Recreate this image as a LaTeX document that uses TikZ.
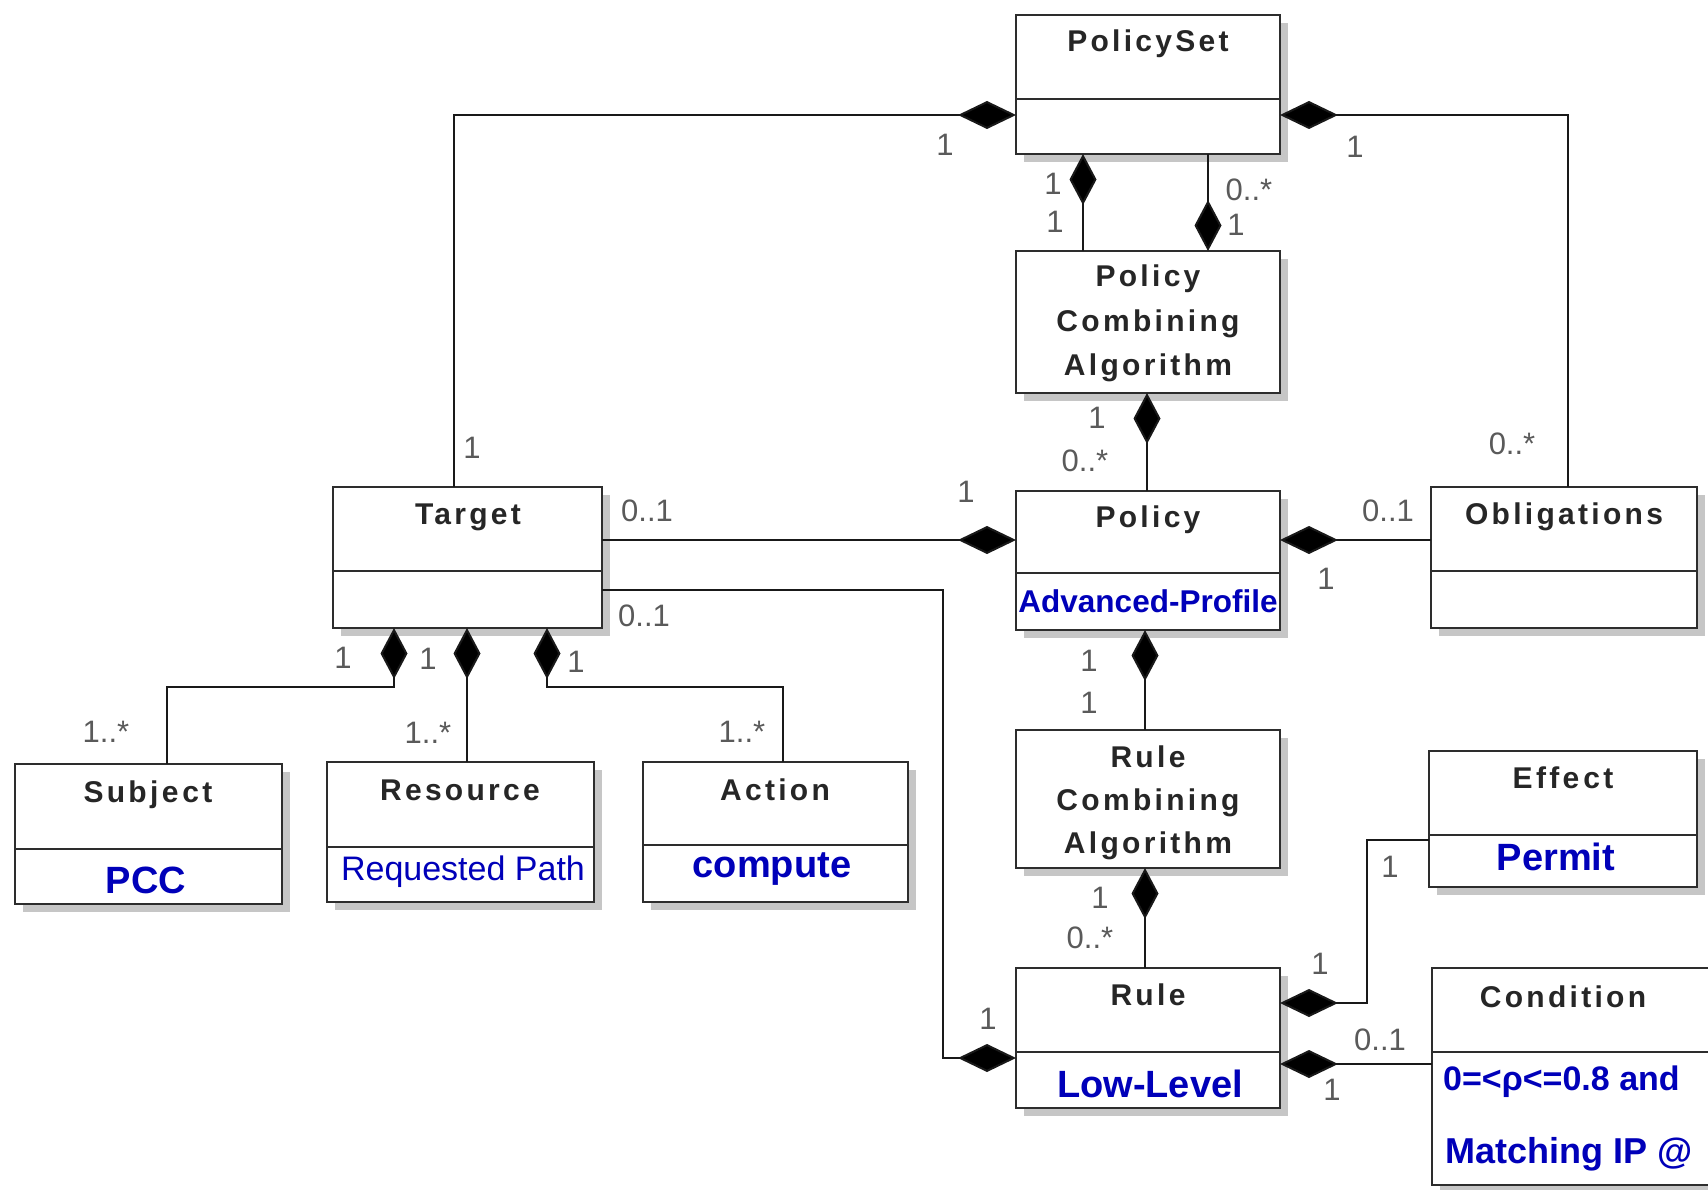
\documentclass[tikz,border=0pt]{standalone}
\usepackage{fontspec}
\setmainfont{Liberation Sans}
\newfontfamily\ttlfont[LetterSpace=11]{Liberation Sans}
\usetikzlibrary{arrows.meta,fit}
\definecolor{boxline}{RGB}{45,45,45}
\definecolor{linkcol}{RGB}{25,25,25}
\definecolor{shadowcol}{RGB}{198,198,198}
\definecolor{attrblue}{RGB}{0,0,185}
\definecolor{multcol}{RGB}{90,90,90}
\newcommand{\umlclass}[5]{%
  \fill[shadowcol] (#2+8,#3+8) rectangle (#4+8,#5+8);
  \node[classbox, fit={(#2,#3) (#4,#5)}] (#1) {};
}
\newcommand{\umldiv}[2]{\draw[boxborder] (#1.west |- 0,#2) -- (#1.east |- 0,#2);}
\tikzset{
  classbox/.style={draw=boxline, fill=white, line width=2.4pt, inner sep=0pt, outer sep=0pt},
  boxborder/.style={draw=boxline, line width=2.2pt},
  ttl/.style={font=\ttlfont\bfseries\fontsize{30}{36}\selectfont, text=black!85, anchor=base, inner sep=0pt},
  attr/.style={font=\bfseries\fontsize{38}{44}\selectfont, text=attrblue, anchor=base, inner sep=0pt},
  mult/.style={font=\fontsize{31}{36}\selectfont, text=multcol, inner sep=0pt},
  link/.style={draw=linkcol, line width=2pt},
  hcomp/.style={link, arrows={Diamond[length=58pt,width=28pt,fill=black]-}},
  vcomp/.style={link, arrows={Diamond[length=51pt,width=27pt,fill=black]-}}
}
\begin{document}
\begin{tikzpicture}[x=1pt,y=-1pt]
\useasboundingbox (0,0) rectangle (1708,1190);
\clip (0,0) rectangle (1708,1190);
\fill[white] (0,0) rectangle (1708,1190);

% classes
\umlclass{ps}{1016}{15}{1280}{154} \umldiv{ps}{99}
\node[ttl] (psT) at (1148,52) {PolicySet};

\umlclass{pca}{1016}{251}{1280}{393}
\node[ttl] (pcaT1) at (1148,287) {Policy};
\node[ttl] (pcaT2) at (1148,331) {Combining};
\node[ttl] (pcaT3) at (1148,375) {Algorithm};

\umlclass{pol}{1016}{491}{1280}{630} \umldiv{pol}{573}
\node[ttl] (polT) at (1148,527) {Policy};
\node[attr, font=\bfseries\fontsize{31.5}{36}\selectfont] (polA) at (1148,612) {Advanced-Profile};

\umlclass{obl}{1431}{487}{1697}{628} \umldiv{obl}{571}
\node[ttl] (oblT) at (1564,524) {Obligations};

\umlclass{tg}{333}{487}{602}{628} \umldiv{tg}{571}
\node[ttl] (tgT) at (468,524) {Target};

\umlclass{subj}{15}{764}{282}{904} \umldiv{subj}{849}
\node[ttl] (subjT) at (148,802) {Subje\kern4pt ct};
\node[attr] (subjA) at (146,893) {PCC};

\umlclass{res}{327}{762}{594}{902} \umldiv{res}{847}
\node[ttl] (resT) at (460,800) {Resource};
\node[attr, font=\fontsize{34}{38}\selectfont] (resA) at (463,880) {Requested Path};

\umlclass{act}{643}{762}{908}{902} \umldiv{act}{845}
\node[ttl] (actT) at (775,800) {Action};
\node[attr] (actA) at (772,877) {compute};

\umlclass{rca}{1016}{730}{1280}{868}
\node[ttl] (rcaT1) at (1148,767) {Rule};
\node[ttl] (rcaT2) at (1148,810) {Combining};
\node[ttl] (rcaT3) at (1148,853) {Algorithm};

\umlclass{rule}{1016}{968}{1280}{1108} \umldiv{rule}{1052}
\node[ttl] (ruleT) at (1148,1005) {Rule};
\node[attr] (ruleA) at (1150,1097) {Low-Level};

\umlclass{eff}{1429}{751}{1697}{887} \umldiv{eff}{835}
\node[ttl] (effT) at (1563,788) {Effe\kern4pt ct};
\node[attr] (effA) at (1556,870) {Permit};

\umlclass{cond}{1432}{968}{1740}{1185} \umldiv{cond}{1052}
\node[ttl] (condT) at (1563,1007) {Condition};
\node[attr, anchor=base west, font=\bfseries\fontsize{34}{40}\selectfont] (condA1) at (1443,1090) {0=<ρ<=0.8 and};
\node[attr, anchor=base west, font=\bfseries\fontsize{36}{40}\selectfont] (condA2) at (1445,1163) {Matching IP @};

% bend points
\coordinate (bendJ) at (943,590);
\coordinate (bendK) at (1367,840);
\coordinate (bendM) at (394,687);
\coordinate (bendO) at (547,687);

% connectors
\draw[hcomp] (ps.west |- 0,115) -| (tg.north -| 454,0);
\draw[hcomp] (ps.east |- 0,115) -| (obl.north -| 1568,0);
\draw[vcomp] (ps.south -| 1083,0) -- (pca.north -| 1083,0);
\draw[vcomp] (pca.north -| 1208,0) -- (ps.south -| 1208,0);
\draw[vcomp] (pca.south -| 1147,0) -- (pol.north -| 1147,0);
\draw[hcomp] (pol.west |- 0,540) -- (tg.east |- 0,540);
\draw[hcomp] (pol.east |- 0,540) -- (obl.west |- 0,540);
\draw[vcomp] (pol.south -| 1145,0) -- (rca.north -| 1145,0);
\draw[vcomp] (rca.south -| 1145,0) -- (rule.north -| 1145,0);
\draw[hcomp] (rule.west |- 0,1058) -| (bendJ) -- (tg.east |- bendJ);
\draw[hcomp] (rule.east |- 0,1003) -| (bendK) -- (eff.west |- bendK);
\draw[hcomp] (rule.east |- 0,1064) -- (cond.west |- 0,1064);
\draw[vcomp] (tg.south -| bendM) -- (bendM) -| (subj.north -| 167,0);
\draw[vcomp] (tg.south -| 467,0) -- (res.north -| 467,0);
\draw[vcomp] (tg.south -| bendO) -- (bendO) -| (act.north -| 783,0);

% multiplicities
\node[mult] (m1) at (945,145) {1};
\node[mult] (m2) at (472,448) {1};
\node[mult] (m3) at (1355,147) {1};
\node[mult] (m4) at (1512,444) {0..*};
\node[mult] (m5) at (1053,184) {1};
\node[mult] (m6) at (1055,222) {1};
\node[mult] (m7) at (1249,190) {0..*};
\node[mult] (m8) at (1236,225) {1};
\node[mult] (m9) at (1097,418) {1};
\node[mult] (m10) at (1085,461) {0..*};
\node[mult] (m11) at (966,492) {1};
\node[mult] (m12) at (647,511) {0..1};
\node[mult] (m13) at (644,616) {0..1};
\node[mult] (m14) at (1388,511) {0..1};
\node[mult] (m15) at (1326,579) {1};
\node[mult] (m16) at (1089,661) {1};
\node[mult] (m17) at (1089,703) {1};
\node[mult] (m18) at (1100,898) {1};
\node[mult] (m19) at (1090,938) {0..*};
\node[mult] (m20) at (988,1019) {1};
\node[mult] (m21) at (1320,964) {1};
\node[mult] (m22) at (1390,867) {1};
\node[mult] (m23) at (1380,1040) {0..1};
\node[mult] (m24) at (1332,1090) {1};
\node[mult] (m25) at (343,658) {1};
\node[mult] (m26) at (428,659) {1};
\node[mult] (m27) at (576,662) {1};
\node[mult] (m28) at (106,732) {1..*};
\node[mult] (m29) at (428,733) {1..*};
\node[mult] (m30) at (742,732) {1..*};
\end{tikzpicture}
\end{document}
